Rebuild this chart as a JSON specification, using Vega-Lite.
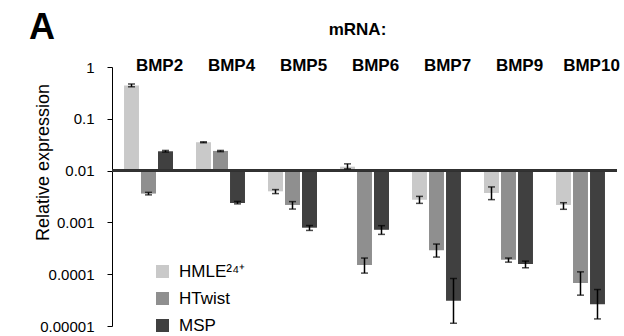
{
  "$schema": "https://vega.github.io/schema/vega-lite/v6.json",
  "width": 505,
  "height": 259,
  "autosize": {"type": "none"},
  "padding": {"left": 112, "top": 67, "right": 7, "bottom": 10},
  "config": {"font": "Liberation Sans", "view": {"stroke": null}},
  "title": {"text": "A", "anchor": "start", "frame": "group", "fontSize": 36, "fontWeight": "bold", "color": "black", "dx": -83, "dy": 31},
  "data": {"values": [
    {"gene": "BMP2", "line": "HMLE²⁴⁺", "value": 0.44, "lo": 0.415, "hi": 0.47},
    {"gene": "BMP2", "line": "HTwist", "value": 0.0036, "lo": 0.0034, "hi": 0.0038},
    {"gene": "BMP2", "line": "MSP", "value": 0.0236, "lo": 0.0228, "hi": 0.0245},
    {"gene": "BMP4", "line": "HMLE²⁴⁺", "value": 0.0353, "lo": 0.0345, "hi": 0.036},
    {"gene": "BMP4", "line": "HTwist", "value": 0.024, "lo": 0.0232, "hi": 0.0245},
    {"gene": "BMP4", "line": "MSP", "value": 0.00237, "lo": 0.00228, "hi": 0.00254},
    {"gene": "BMP5", "line": "HMLE²⁴⁺", "value": 0.00398, "lo": 0.0036, "hi": 0.0043},
    {"gene": "BMP5", "line": "HTwist", "value": 0.00217, "lo": 0.00181, "hi": 0.00252},
    {"gene": "BMP5", "line": "MSP", "value": 0.00079, "lo": 0.0007, "hi": 0.00087},
    {"gene": "BMP6", "line": "HMLE²⁴⁺", "value": 0.0119, "lo": 0.0108, "hi": 0.0135},
    {"gene": "BMP6", "line": "HTwist", "value": 0.00015, "lo": 0.000105, "hi": 0.000205},
    {"gene": "BMP6", "line": "MSP", "value": 0.00072, "lo": 0.000587, "hi": 0.000865},
    {"gene": "BMP7", "line": "HMLE²⁴⁺", "value": 0.00275, "lo": 0.00233, "hi": 0.00318},
    {"gene": "BMP7", "line": "HTwist", "value": 0.00029, "lo": 0.000214, "hi": 0.000382},
    {"gene": "BMP7", "line": "MSP", "value": 0.0000306, "lo": 0.0000113, "hi": 0.0000826},
    {"gene": "BMP9", "line": "HMLE²⁴⁺", "value": 0.0037, "lo": 0.00275, "hi": 0.00484},
    {"gene": "BMP9", "line": "HTwist", "value": 0.00019, "lo": 0.000171, "hi": 0.000205},
    {"gene": "BMP9", "line": "MSP", "value": 0.000157, "lo": 0.000133, "hi": 0.000179},
    {"gene": "BMP10", "line": "HMLE²⁴⁺", "value": 0.00217, "lo": 0.00179, "hi": 0.0024},
    {"gene": "BMP10", "line": "HTwist", "value": 0.0000673, "lo": 0.0000394, "hi": 0.000111},
    {"gene": "BMP10", "line": "MSP", "value": 0.0000264, "lo": 0.0000137, "hi": 0.0000506}
  ]},
  "encoding": {
    "x": {
      "field": "gene", "type": "nominal",
      "sort": ["BMP2", "BMP4", "BMP5", "BMP6", "BMP7", "BMP9", "BMP10"],
      "scale": {"paddingInner": 0.32, "paddingOuter": 0.167},
      "axis": {
        "orient": "top", "domain": false, "ticks": false, "labelAngle": 0,
        "labelFontSize": 17, "labelFontWeight": "bold", "labelColor": "black",
        "labelBaseline": "alphabetic", "labelPadding": -3, "labelOffset": 11,
        "title": "mRNA:", "titleFontSize": 17, "titleFontWeight": "bold", "titleColor": "black",
        "titleX": 245, "titleY": -33, "titleBaseline": "alphabetic", "titleAnchor": null, "titleAlign": "center"
      }
    },
    "xOffset": {
      "field": "line", "type": "nominal",
      "sort": ["HMLE²⁴⁺", "HTwist", "MSP"],
      "scale": {"paddingInner": 0.12}
    }
  },
  "layer": [
    {
      "mark": {"type": "bar"},
      "encoding": {
        "y": {
          "field": "value", "type": "quantitative",
          "scale": {"type": "log", "domain": [0.00001, 1], "nice": false},
          "axis": {
            "values": [1, 0.1, 0.01, 0.001, 0.0001, 0.00001],
            "format": ".5~f", "grid": false,
            "domainColor": "black", "tickColor": "black", "tickSize": 5,
            "labelFontSize": 15, "labelColor": "black", "labelPadding": 13,
            "title": "Relative expression", "titleFontSize": 18, "titleFontWeight": "normal", "titleColor": "black",
            "titleX": -69, "titleY": 95, "titleBaseline": "middle", "titleAnchor": null, "titleAlign": "center", "titleAngle": 270
          }
        },
        "y2": {"datum": 0.01},
        "color": {
          "field": "line", "type": "nominal",
          "scale": {"domain": ["HMLE²⁴⁺", "HTwist", "MSP"], "range": ["#c9c9c9", "#8f8f8f", "#404040"]},
          "legend": {
            "title": null, "orient": "none", "legendX": 42, "legendY": 196,
            "symbolType": "square", "symbolSize": 169, "symbolStrokeWidth": 0,
            "labelFontSize": 17, "labelColor": "black", "labelOffset": 8,
            "rowPadding": 9, "padding": 0
          }
        }
      }
    },
    {
      "mark": {"type": "rule", "color": "#333", "strokeWidth": 1.5},
      "encoding": {"y": {"datum": 0.01}, "x": null, "xOffset": null}
    },
    {
      "mark": {"type": "rule", "color": "black", "strokeWidth": 1.5},
      "encoding": {"y": {"field": "lo", "type": "quantitative"}, "y2": {"field": "hi"}}
    },
    {
      "mark": {"type": "tick", "color": "black", "size": 7, "thickness": 1.5},
      "encoding": {"y": {"field": "lo", "type": "quantitative"}}
    },
    {
      "mark": {"type": "tick", "color": "black", "size": 7, "thickness": 1.5},
      "encoding": {"y": {"field": "hi", "type": "quantitative"}}
    }
  ]
}
